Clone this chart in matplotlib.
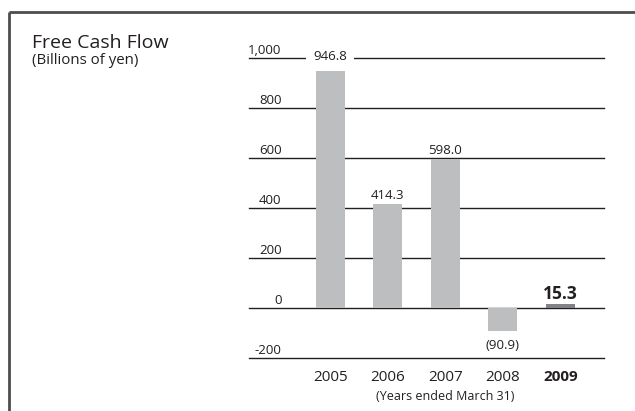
import matplotlib
matplotlib.use("Agg")
import matplotlib.pyplot as plt
from matplotlib.lines import Line2D
import matplotlib.transforms as mtransforms

years = ["2005", "2006", "2007", "2008", "2009"]
values = [946.8, 414.3, 598.0, -90.9, 15.3]
value_labels = ["946.8", "414.3", "598.0", "(90.9)", "15.3"]
yticks = [-200, 0, 200, 400, 600, 800, 1000]
ytick_labels = ["-200", "0", "200", "400", "600", "800", "1,000"]

plt.rcParams["font.family"] = ["Open Sans", "DejaVu Sans"]
TXT = "#231f20"

W, H = 635, 411
fig = plt.figure(figsize=(W / 100, H / 100), dpi=100)

def fx(px):
    return px / W

def fy(py):
    return 1 - py / H

# border (top and left)
fig.add_artist(Line2D([fx(9), fx(635)], [fy(12), fy(12)], color="#4d4d4d", lw=2.0,
                      transform=fig.transFigure, solid_capstyle="butt"))
fig.add_artist(Line2D([fx(9), fx(9)], [fy(12), fy(411)], color="#4d4d4d", lw=2.0,
                      transform=fig.transFigure, solid_capstyle="butt"))

fig.text(fx(32), fy(48), "Free Cash Flow", fontsize=14, va="baseline", ha="left", color=TXT)
fig.text(fx(32), fy(64), "(Billions of yen)", fontsize=10.8, va="baseline", ha="left", color=TXT)

ax = fig.add_axes([fx(249), fy(358), fx(604) - fx(249), fy(58) - fy(358)])
ax.set_ylim(-200, 1000)
ax.set_xlim(-1.41, 4.76)
ax.axis("off")

for t in yticks:
    ax.axhline(t, color=TXT, lw=1.0, zorder=1, clip_on=False)

colors = ["#bcbec0"] * 4 + ["#808285"]
x = list(range(len(years)))
ax.bar(x, values, width=0.5, color=colors, zorder=2)

tr = mtransforms.blended_transform_factory(ax.transAxes, ax.transData)
for t, lab in zip(yticks, ytick_labels):
    ax.text(0.092, t + 18, lab, transform=tr, ha="right", va="baseline", fontsize=9.5, color=TXT)

for i, (v, lab) in enumerate(zip(values, value_labels)):
    if i == 0:
        ax.text(i, 1000 - 6, lab, ha="center", va="baseline", fontsize=9.5, color=TXT, zorder=3,
                bbox=dict(facecolor="white", edgecolor="none", pad=5))
    elif v < 0:
        ax.text(i, v - 75, lab, ha="center", va="baseline", fontsize=9.5, color=TXT)
    elif i == 4:
        ax.text(i, v + 20, lab, ha="center", va="baseline", fontsize=12.5, fontweight="bold", color=TXT)
    else:
        ax.text(i, v + 20, lab, ha="center", va="baseline", fontsize=9.5, color=TXT)

for i, yr in enumerate(years):
    ax.text(i, -292, yr, ha="center", va="baseline", fontsize=11,
            fontweight="bold" if i == 4 else "normal", color=TXT, clip_on=False)
ax.text(2, -366, "(Years ended March 31)", ha="center", va="baseline", fontsize=9, color=TXT, clip_on=False)

fig.savefig("out.png", dpi=100)
